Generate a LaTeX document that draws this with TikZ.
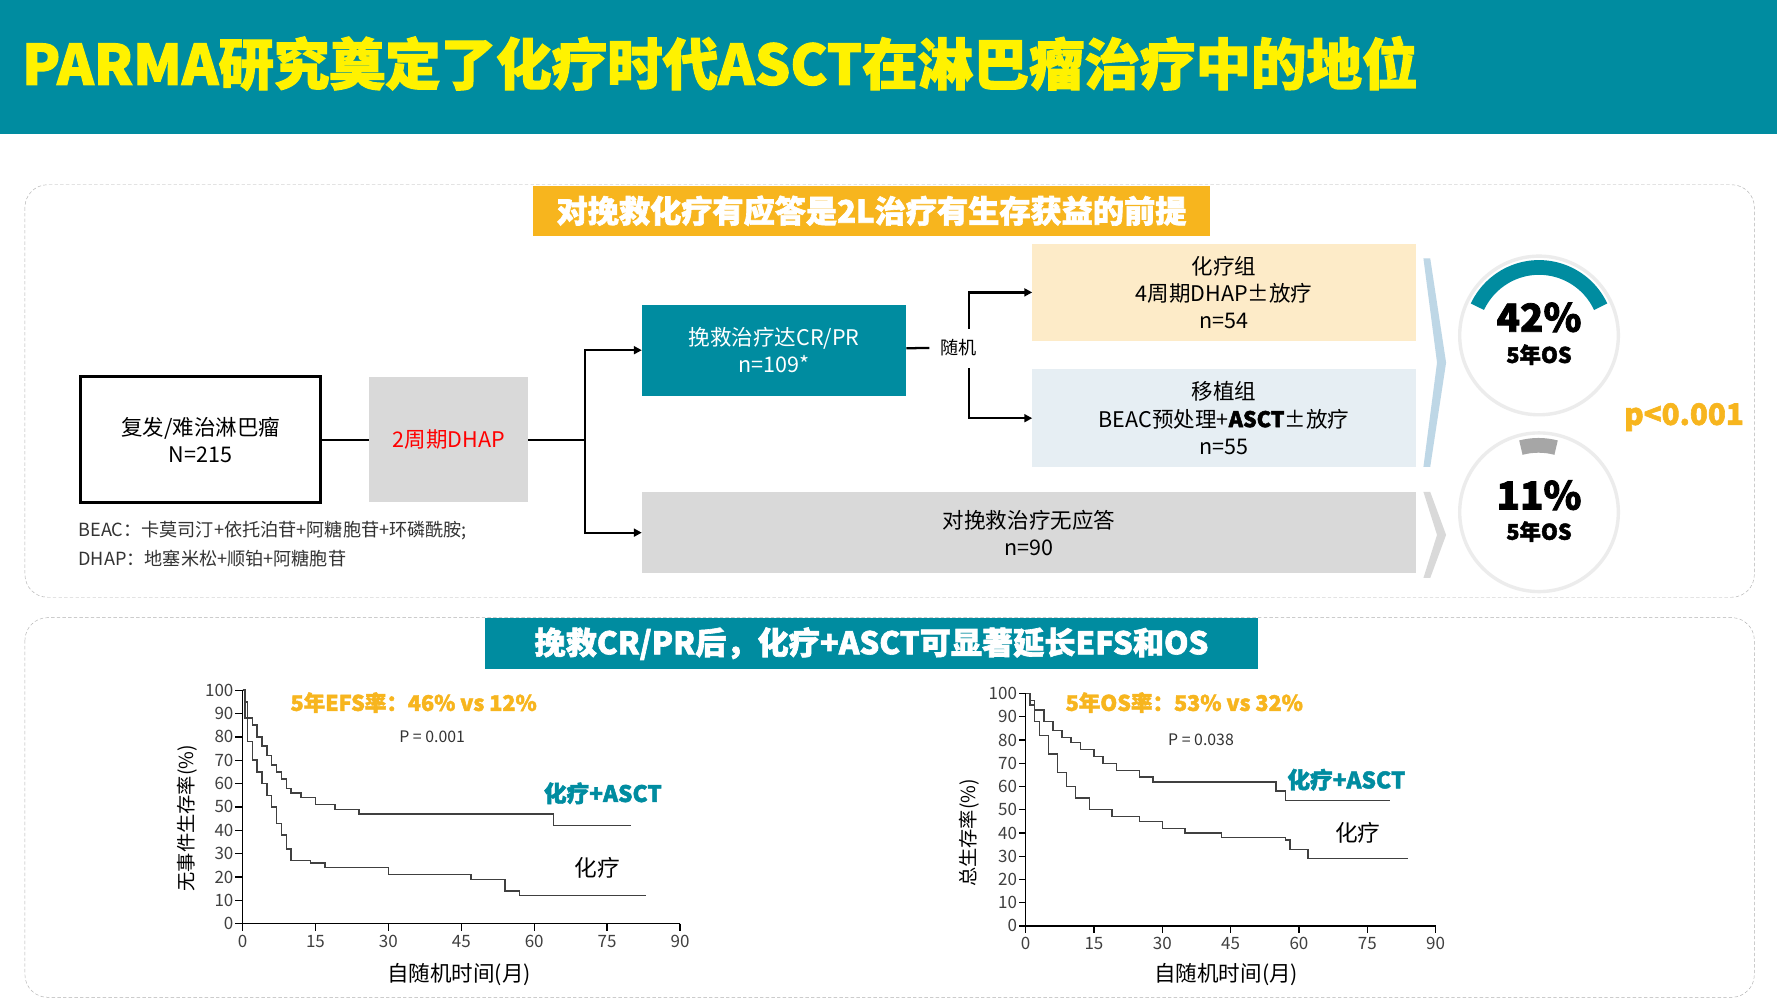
\documentclass[tikz,border=0pt]{standalone}
\usepackage{fontspec}
\setmainfont{Noto Sans CJK SC}[BoldFeatures={FakeBold=2}]
\usetikzlibrary{positioning,arrows.meta}
\definecolor{teal1}{RGB}{0,140,160}
\definecolor{gold1}{RGB}{247,181,30}
\definecolor{grey1}{RGB}{217,217,217}
\definecolor{peach1}{RGB}{253,235,200}
\definecolor{ice1}{RGB}{230,238,243}
\definecolor{chev1}{RGB}{190,215,230}
\tikzstyle{panel} = [draw=gray!60, dashed, dash pattern=on 3pt off 2pt, rounded corners=20pt]
\tikzstyle{banner} = [text=white, font=\fontsize{27.5}{29}\selectfont\bfseries, inner sep=0pt, anchor=center]
\tikzstyle{stepbox} = [inner sep=0pt, align=center, font=\fontsize{19}{24}\selectfont]
\tikzstyle{link} = [line width=2pt]
\tikzstyle{ar} = [line width=2pt, -{Triangle[length=7pt,width=7pt]}]
\tikzstyle{tick} = [font=\fontsize{15}{15}\selectfont, text=black!75]
\tikzstyle{curve} = [line width=1.3pt, black!75]

\begin{document}
\begin{tikzpicture}[x=1pt,y=-1pt]
  \useasboundingbox (0,0) rectangle (1568,889);
  \fill[white] (0,0) rectangle (1568,889);

  % title bar
  \fill[teal1] (0,0) rectangle (1568,118);
  \node [anchor=west, text=yellow, font=\fontsize{49}{51}\selectfont\bfseries] (title) at (16,56) {PARMA研究奠定了化疗时代ASCT在淋巴瘤治疗中的地位};

  % upper panel
  \draw [panel] (22,163) rectangle (1548,527);
  \fill [gold1] (470,164) rectangle (1068,208);
  \node [banner] (top-banner) at (769,186) {对挽救化疗有应答是2L治疗有生存获益的前提};

  \node [draw, line width=2.5pt, minimum width=212pt, minimum height=111pt, stepbox] (A) at (177,388) {复发/难治淋巴瘤\\N=215};
  \node [fill=grey1, minimum width=140pt, minimum height=110pt, stepbox, text=red] (B) at (396,388) {2周期DHAP};
  \node [fill=teal1, minimum width=233pt, minimum height=80pt, stepbox, text=white] (C) at (683,309) {挽救治疗达CR/PR\\n=109*};
  \node [fill=grey1, minimum width=683pt, minimum height=72pt, stepbox] (D) at (908,470) {对挽救治疗无应答\\n=90};
  \node [stepbox, font=\fontsize{16}{18}\selectfont] (rand) at (846,307) {随机};
  \node [fill=peach1, minimum width=338pt, minimum height=85pt, stepbox] (C-1) at (1080,258) {化疗组\\4周期DHAP±放疗\\n=54};
  \node [fill=ice1, minimum width=338pt, minimum height=86pt, stepbox] (C-2) at (1080,369) {移植组\\BEAC预处理+\textbf{ASCT}±放疗\\n=55};
  \node [anchor=north west, inner sep=0pt, align=left, font=\fontsize{16}{25}\selectfont, text=black!80] (note) at (69,460) {BEAC：卡莫司汀+依托泊苷+阿糖胞苷+环磷酰胺;\\DHAP：地塞米松+顺铂+阿糖胞苷};

  \coordinate (split) at (516,388);
  \coordinate (r1) at (855,290);
  \coordinate (r2) at (855,325);
  \coordinate (rin) at (820,307);
  \draw [link] (A) -- (B);
  \draw [link] (B) -- (split);
  \draw [ar] (split) |- (C.west);
  \draw [ar] (split) |- (D.west);
  \draw [link] (C) -- (rin);
  \draw [ar] (r1) |- (C-1.west);
  \draw [ar] (r2) |- (C-2.west);

  % chevrons
  \fill [chev1] (1256,228) -- (1262,228) -- (1276,320) -- (1262,412) -- (1256,412) -- (1268,320) -- cycle;
  \fill [grey1] (1256,434) -- (1262,434) -- (1276,472) -- (1262,510) -- (1256,510) -- (1268,472) -- cycle;

  % outcome rings
  \node [circle, draw=gray!15, line width=3pt, minimum size=140pt] (O1) at (1358,296) {};
  \node [circle, draw=gray!15, line width=3pt, minimum size=140pt] (O2) at (1358,452) {};
  \draw [teal1, line width=13pt] (O1.center) ++(155:-60) arc[start angle=-25, end angle=-155, radius=60];
  \draw [gray!70, line width=13pt] (O2.center) ++(0,-60) ++(-16,3) arc[start angle=-105, end angle=-75, radius=60];
  \node [font=\fontsize{34}{34}\selectfont\bfseries] (v1) at (1358,280) {42\%};
  \node [font=\fontsize{19}{19}\selectfont\bfseries] (l1) at (1358,313) {5年OS};
  \node [font=\fontsize{34}{34}\selectfont\bfseries] (v2) at (1358,437) {11\%};
  \node [font=\fontsize{19}{19}\selectfont\bfseries] (l2) at (1358,469) {5年OS};
  \node [text=gold1, font=\fontsize{26}{26}\selectfont\bfseries] (pval) at (1486,368) {p<0.001};

  % lower panel
  \draw [panel] (22,545) rectangle (1548,880);
  \fill [teal1] (428,545) rectangle (1110,590);
  \node [banner] (bot-banner) at (769,568) {挽救CR/PR后，化疗+ASCT可显著延长EFS和OS};

  % EFS plot
  \begin{scope}[shift={(214,815)}, x=4.29pt, y=2.06pt]
    \draw [line width=1.5pt] (0,0) -- (90,0);
    \draw [line width=1.5pt] (0,0) -- (0,100);
    \foreach \t in {0,15,...,90} \draw [line width=1.2pt] (\t,0) -- (\t,-3) node [tick, below] {\t};
    \foreach \v in {0,10,...,100} \draw [line width=1.2pt] (0,\v) -- (-1.5,\v) node [tick, left, inner sep=1pt] {\v};
    \draw [curve] plot [const plot] coordinates {(0,100) (0.5,95) (1,88) (2,85) (3,80) (4,76) (5,72) (6,68) (7,65) (8,62) (9,58) (10,56) (12,54) (15,51) (19,49) (24,47) (64,42) (80,42)};
    \draw [curve] plot [const plot] coordinates {(0,100) (0.5,88) (1,78) (2,70) (3,65) (4,60) (5,55) (6,50) (7,43) (8,38) (9,32) (10,27) (14,26) (17,24) (30,21) (47,19) (54,14) (57,12) (83,12)};
    \node [font=\fontsize{14}{14}\selectfont, text=black!80] (p-efs) at (39,80) {P = 0.001};
  \end{scope}
  \node [text=gold1, font=\fontsize{19}{19}\selectfont\bfseries] (h-efs) at (365,620) {5年EFS率：46\% vs 12\%};
  \node [text=teal1, font=\fontsize{20}{20}\selectfont\bfseries] (c-efs) at (532,700) {化疗+ASCT};
  \node [font=\fontsize{20}{20}\selectfont] (k-efs) at (527,766) {化疗};
  \node [rotate=90, font=\fontsize{17}{17}\selectfont] (y-efs) at (165,722) {无事件生存率(\%)};
  \node [font=\fontsize{19}{19}\selectfont] (x-efs) at (405,860) {自随机时间(月)};

  % OS plot
  \begin{scope}[shift={(905,817)}, x=4.02pt, y=2.05pt]
    \draw [line width=1.5pt] (0,0) -- (90,0);
    \draw [line width=1.5pt] (0,0) -- (0,100);
    \foreach \t in {0,15,...,90} \draw [line width=1.2pt] (\t,0) -- (\t,-3) node [tick, below] {\t};
    \foreach \v in {0,10,...,100} \draw [line width=1.2pt] (0,\v) -- (-1.5,\v) node [tick, left, inner sep=1pt] {\v};
    \draw [curve] plot [const plot] coordinates {(0,100) (1,97) (2,93) (4,88) (6,84) (8,81) (10,79) (12,76) (15,73) (17,70) (20,67) (25,64) (28,62) (55,58) (57,54) (80,54)};
    \draw [curve] plot [const plot] coordinates {(0,100) (1,95) (2,88) (3,82) (5,74) (7,66) (9,60) (11,55) (14,50) (19,47) (25,45) (30,42) (35,40) (43,38) (57,37) (58,33) (62,29) (84,29)};
    \node [font=\fontsize{14}{14}\selectfont, text=black!80] (p-os) at (38.5,80) {P = 0.038};
  \end{scope}
  \node [text=gold1, font=\fontsize{19}{19}\selectfont\bfseries] (h-os) at (1045,620) {5年OS率：53\% vs 32\%};
  \node [text=teal1, font=\fontsize{20}{20}\selectfont\bfseries] (c-os) at (1188,688) {化疗+ASCT};
  \node [font=\fontsize{20}{20}\selectfont] (k-os) at (1198,735) {化疗};
  \node [rotate=90, font=\fontsize{17}{17}\selectfont] (y-os) at (855,735) {总生存率(\%)};
  \node [font=\fontsize{19}{19}\selectfont] (x-os) at (1082,860) {自随机时间(月)};
\end{tikzpicture}
\end{document}
